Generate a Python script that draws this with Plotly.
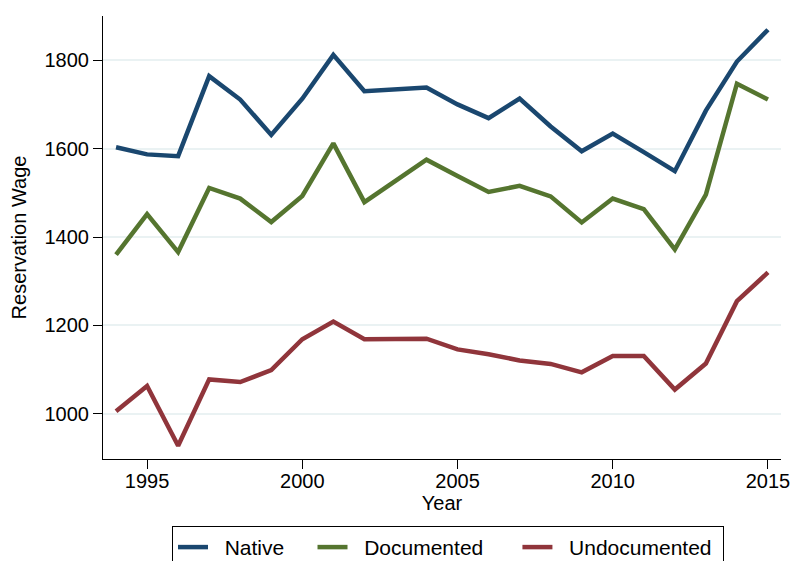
import plotly.graph_objects as go

years = list(range(1994, 2016))
native = [1603, 1587, 1583, 1764, 1711, 1631, 1713, 1812, 1730, 1733, 1738, 1700,
          1669, 1713, 1650, 1594, 1634, 1592, 1549, 1686, 1797, 1869]
documented = [1360, 1452, 1366, 1511, 1487, 1434, 1493, 1612, 1479, 1527, 1575, 1538,
              1502, 1516, 1492, 1433, 1487, 1463, 1372, 1496, 1747, 1711]
undocumented = [1006, 1063, 928, 1078, 1072, 1099, 1169, 1209, 1169, 1169, 1170, 1146,
                1135, 1121, 1113, 1094, 1131, 1131, 1055, 1114, 1255, 1320]

series_names = ["Native", "Documented", "Undocumented"]
series_colors = ["#1a476f", "#55752f", "#90353b"]
x_ticks = [1995, 2000, 2005, 2010, 2015]
y_ticks = [1000, 1200, 1400, 1600, 1800]

FONT = "Liberation Sans, Arial, Helvetica, sans-serif"
NB = "\u00a0"
trailing = [4, 5, 1]

fig = go.Figure()
for name, vals, col, tr in zip(series_names, [native, documented, undocumented],
                               series_colors, trailing):
    fig.add_trace(go.Scatter(x=years, y=vals, mode="lines",
                             name=NB * 2 + name + NB * tr,
                             line=dict(color=col, width=4.5)))

fig.update_layout(
    width=801, height=561,
    paper_bgcolor="white", plot_bgcolor="white",
    margin=dict(l=103, r=11, t=16, b=102),
    font=dict(family=FONT, size=20, color="black"),
    showlegend=True,
    legend=dict(orientation="h", xref="container", yref="container",
                x=0.2147, xanchor="left", y=0.0625, yanchor="top",
                bordercolor="black", borderwidth=1,
                font=dict(family=FONT, size=21, color="black"),
                bgcolor="white"),
)
fig.update_xaxes(range=[1993.58, 2015.42], tickvals=x_ticks, showgrid=False,
                 zeroline=False, showline=True, linecolor="black", linewidth=1,
                 ticks="outside", ticklen=9, tickcolor="black",
                 ticklabelstandoff=-5,
                 title=dict(text="Year", font=dict(size=20), standoff=2),
                 tickfont=dict(size=20))
fig.update_yaxes(range=[898, 1900], tickvals=y_ticks, showgrid=True,
                 gridcolor="#eaf2f3", gridwidth=1.5,
                 zeroline=False, showline=True, linecolor="black", linewidth=1,
                 ticks="outside", ticklen=9, tickcolor="black",
                 title=dict(text="Reservation Wage", font=dict(size=20), standoff=12),
                 tickfont=dict(size=20))

fig.write_html("out.html")
